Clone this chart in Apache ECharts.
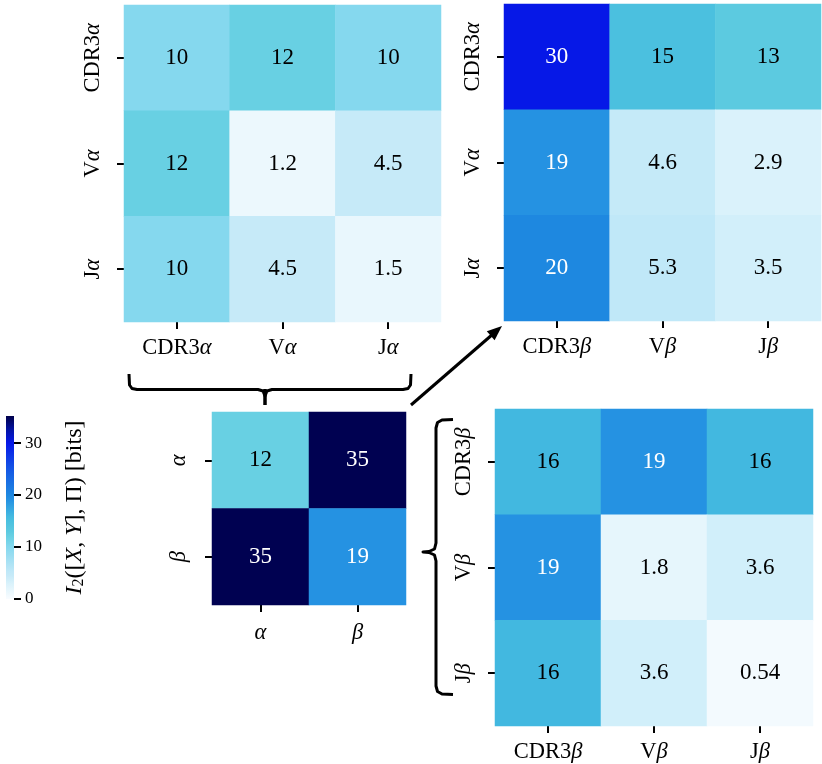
<!DOCTYPE html>
<html><head><meta charset="utf-8">
<script src="https://cdn.jsdelivr.net/npm/echarts@6/dist/echarts.min.js"></script>
<style>html,body{margin:0;padding:0;background:#fff}#c{width:822px;height:764px}</style>
</head><body><div id="c"></div>
<script>
// ---- data ----
const alphaLabels = ['CDR3α', 'Vα', 'Jα'];
const betaLabels = ['CDR3β', 'Vβ', 'Jβ'];
const chainLabels = ['α', 'β'];
const valsAlphaAlpha = [[10, 12, 10], [12, 1.2, 4.5], [10, 4.5, 1.5]];
const valsAlphaBeta = [[30, 15, 13], [19, 4.6, 2.9], [20, 5.3, 3.5]];
const valsChain = [[12, 35], [35, 19]];
const valsBetaBeta = [[16, 19, 16], [19, 1.8, 3.6], [16, 3.6, 0.54]];
const cbarTicks = [0, 10, 20, 30];
const VMAX = 35.2;

// ---- colormap anchors (style) ----
const CMAP = [
  [0, '#f9fcff'], [1.2, '#ecf8fd'], [2.9, '#daf2fb'], [4.5, '#c6eaf8'], [5.3, '#c0e8f8'],
  [7.5, '#a4e0f3'], [10, '#85d8ee'], [12, '#68d0e3'], [13, '#5cc9e0'], [15, '#4bc0df'],
  [16, '#42b8e0'], [19, '#2592e2'], [20, '#1e88e0'], [25, '#1456e5'], [30, '#0618e8'],
  [32.5, '#0414a6'], [35.2, '#00004a']
];
function hex2rgb(h){return [parseInt(h.slice(1,3),16),parseInt(h.slice(3,5),16),parseInt(h.slice(5,7),16)];}
function cmapAt(v){
  for(let i=1;i<CMAP.length;i++){
    if(v<=CMAP[i][0]){
      const a=CMAP[i-1],b=CMAP[i],t=(v-a[0])/(b[0]-a[0]);
      const ca=hex2rgb(a[1]),cb=hex2rgb(b[1]);
      return 'rgb('+ca.map((c,k)=>Math.round(c+(cb[k]-c)*t)).join(',')+')';
    }
  }
  return CMAP[CMAP.length-1][1];
}
const N=200, vmColors=[];
for(let i=0;i<N;i++) vmColors.push(cmapAt(VMAX*i/(N-1)));

function toData(mat){
  const out=[];
  mat.forEach((row,r)=>row.forEach((v,c)=>out.push([c,r,v])));
  return out;
}

const FONT='Liberation Serif';
const AX=22.5;
const rich={g:{fontStyle:'italic',fontFamily:FONT,fontSize:AX,color:'#000'},n:{fontFamily:FONT,fontSize:AX,color:'#000'}};
const fmtCat=v=>v.replace(/^(.*?)([αβ])$/,(m,a,g)=>(a?'{n|'+a+'}':'')+'{g|'+g+'}');

const grids=[
  {left:124,top:5,width:317,height:317},
  {left:504,top:4,width:317,height:317},
  {left:212,top:412,width:194,height:193},
  {left:495,top:409,width:318,height:317},
  {left:6,top:416,width:8,height:183}
];
const tick={show:true,length:7,alignWithLabel:true,lineStyle:{color:'#000',width:2}};
function xCat(gi,data,margin){
  return {type:'category',gridIndex:gi,data:data,position:'bottom',axisLine:{show:false},axisTick:tick,
    splitArea:{show:false},splitLine:{show:false},
    axisLabel:{margin:margin,formatter:fmtCat,rich:rich,interval:0}};
}
function yCat(gi,data,margin){
  return {type:'category',gridIndex:gi,data:data,inverse:true,axisLine:{show:false},axisTick:tick,
    splitArea:{show:false},splitLine:{show:false},
    axisLabel:{margin:margin,rotate:90,formatter:fmtCat,rich:rich,interval:0}};
}
const CF=23;
const cellLabel={show:true,fontFamily:FONT,fontSize:CF,
  formatter:p=>(p.value[2]>17?'{w|':'{k|')+p.value[2]+'}',
  rich:{w:{color:'#fff',fontFamily:FONT,fontSize:CF},k:{color:'#000',fontFamily:FONT,fontSize:CF}}};
function hm(i,mat){
  return {type:'heatmap',xAxisIndex:i,yAxisIndex:i,data:toData(mat),label:cellLabel,
    itemStyle:{borderWidth:0},emphasis:{disabled:true},silent:true};
}

const option={
  animation:false,
  textStyle:{fontFamily:FONT},
  grid:grids,
  xAxis:[xCat(0,alphaLabels,15),xCat(1,betaLabels,15),xCat(2,chainLabels,17),xCat(3,betaLabels,15),
    {type:'category',gridIndex:4,data:['cb'],show:false}],
  yAxis:[yCat(0,alphaLabels,19),yCat(1,alphaLabels,19),yCat(2,chainLabels,21),yCat(3,betaLabels,19),
    {type:'value',gridIndex:4,min:0,max:VMAX,interval:10,position:'right',axisLine:{show:false},
     splitLine:{show:false},
     axisTick:{show:true,length:7,lineStyle:{color:'#000',width:2},customValues:cbarTicks},
     axisLabel:{fontFamily:FONT,fontSize:17,color:'#000',margin:11,showMaxLabel:false,
       formatter:v=>cbarTicks.indexOf(v)>=0?String(v):''},
     name:'{i|I}{s|2}{n|([}{i|X}{n|, }{i|Y}{n|], Π) [bits]}',nameLocation:'middle',nameRotate:90,nameGap:48,
     nameTextStyle:{rich:{
       i:{fontFamily:FONT,fontStyle:'italic',fontSize:24,color:'#000'},
       s:{fontFamily:FONT,fontSize:16,color:'#000',verticalAlign:'bottom',padding:[9,0,0,0]},
       n:{fontFamily:FONT,fontSize:24,color:'#000'}}}}],
  visualMap:{type:'continuous',show:false,min:0,max:VMAX,seriesIndex:[0,1,2,3],inRange:{color:vmColors}},
  series:[
    hm(0,valsAlphaAlpha),hm(1,valsAlphaBeta),hm(2,valsChain),hm(3,valsBetaBeta),
    {type:'bar',xAxisIndex:4,yAxisIndex:4,data:[VMAX],barWidth:'100%',silent:true,
     itemStyle:{color:new echarts.graphic.LinearGradient(0,1,0,0,CMAP.map(s=>({offset:s[0]/VMAX,color:s[1]})))}}
  ],
  graphic:[
    {type:'polyline',shape:{points:[[129,374],[129.5,385],[132,388.5],[137,389.5],[258,389.5],[263,391],[265,396],[267,391],[272,389.5],[403,389.5],[408,388.5],[410.5,385],[411,374]]},
     style:{stroke:'#000',lineWidth:3,fill:null,lineJoin:'round'}},
    {type:'polyline',shape:{points:[[265,389],[265,405]]},style:{stroke:'#000',lineWidth:3.5}},
    {type:'polyline',shape:{points:[[453,419.5],[442,420],[437.5,422.5],[436,428],[436,543],[434.5,549],[429,551.5],[423,552],[429,552.5],[434.5,555],[436,561],[436,686],[437.5,691.5],[442,694],[453,694.5]]},
     style:{stroke:'#000',lineWidth:3,fill:null,lineJoin:'round'}},
    {type:'line',shape:{x1:411,y1:405,x2:493,y2:334},style:{stroke:'#000',lineWidth:3}},
    {type:'polygon',shape:{points:[[502,326],[494.6,340.3],[486.8,331.3]]},style:{fill:'#000'}}
  ]
};
echarts.init(document.getElementById('c'),null,{renderer:'canvas'}).setOption(option);
</script></body></html>
